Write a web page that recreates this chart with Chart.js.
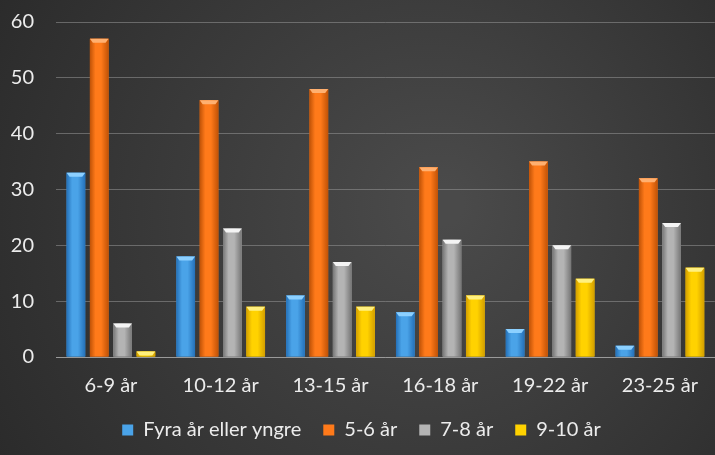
<!DOCTYPE html>
<html lang="sv">
<head>
<meta charset="UTF-8">
<title>Ålder</title>
<script src="https://cdn.jsdelivr.net/npm/chart.js"></script>
<style>
  html, body { margin: 0; padding: 0; background: #2a2a2a; }
  #wrap { width: 715px; height: 455px; position: relative; }
</style>
</head>
<body>
<div id="wrap"><canvas id="c"></canvas></div>
<script>
const kategorier = ['6-9 år', '10-12 år', '13-15 år', '16-18 år', '19-22 år', '23-25 år'];
const serieNamn = ['Fyra år eller yngre', '5-6 år', '7-8 år', '9-10 år'];
const fyraEllerYngre = [33, 18, 11, 8, 5, 2];
const femSex = [57, 46, 48, 34, 35, 32];
const sjuAtta = [6, 23, 17, 21, 20, 24];
const nioTio = [1, 9, 9, 11, 14, 16];
const yTicks = [0, 10, 20, 30, 40, 50, 60];

// färger: [mörk kant, mitt, topp-glans]
const farger = [
  ['#2470b8', '#4aa3e8', '#8cd0ff'],
  ['#c05206', '#ff7a1a', '#ffb070'],
  ['#767676', '#b4b4b4', '#f4f4f4'],
  ['#d39e00', '#ffd200', '#fff080']
];

const bakgrund = {
  id: 'bakgrund',
  beforeDraw(chart) {
    const c = chart.ctx;
    const w = chart.width, h = chart.height;
    c.save();
    const g = c.createRadialGradient(w * 0.62, h * 0.45, 20, w * 0.55, h * 0.5, w * 0.75);
    g.addColorStop(0, '#4a4a4a');
    g.addColorStop(1, '#262626');
    c.fillStyle = g;
    c.fillRect(0, 0, w, h);
    c.restore();
  }
};

// skuggning och glans ovanpå staplarna
const glans = {
  id: 'glans',
  afterDatasetsDraw(chart) {
    const c = chart.ctx;
    chart.data.datasets.forEach((ds, i) => {
      chart.getDatasetMeta(i).data.forEach(bar => {
        const w = bar.width;
        const x0 = bar.x - w / 2, x1 = bar.x + w / 2;
        c.save();
        const g = c.createLinearGradient(x0, 0, x1, 0);
        g.addColorStop(0, farger[i][0]);
        g.addColorStop(0.3, farger[i][1]);
        g.addColorStop(0.6, farger[i][1]);
        g.addColorStop(1, farger[i][0]);
        c.fillStyle = g;
        c.fillRect(x0, bar.y, w, bar.base - bar.y);
        c.fillStyle = farger[i][2];
        c.beginPath();
        c.moveTo(x0, bar.y);
        c.lineTo(x1, bar.y);
        c.lineTo(x1 - 3, bar.y + 4);
        c.lineTo(x0 + 3, bar.y + 4);
        c.closePath();
        c.fill();
        c.restore();
      });
    });
  }
};

const data = [fyraEllerYngre, femSex, sjuAtta, nioTio];

new Chart(document.getElementById('c'), {
  type: 'bar',
  data: {
    labels: kategorier,
    datasets: data.map((d, i) => ({
      label: serieNamn[i],
      data: d,
      backgroundColor: farger[i][1],
      borderWidth: 0,
      categoryPercentage: 0.85,
      barPercentage: 0.8
    }))
  },
  options: {
    responsive: true,
    maintainAspectRatio: false,
    animation: false,
    layout: { padding: { left: 8, right: 0, top: 22, bottom: 5 } },
    plugins: {
      legend: {
        position: 'bottom',
        labels: {
          color: '#ececec',
          font: { family: 'Lato', size: 20 },
          boxWidth: 11,
          boxHeight: 11,
          padding: 22,
          generateLabels(chart) {
            return serieNamn.map((n, i) => ({
              text: n,
              fillStyle: farger[i][1],
              strokeStyle: farger[i][1],
              lineWidth: 0,
              fontColor: '#ececec',
              datasetIndex: i
            }));
          }
        }
      },
      tooltip: { enabled: false }
    },
    scales: {
      x: {
        afterFit(scale) { scale.height = 41; },
        grid: { display: false, drawTicks: false },
        border: { color: '#9a9a9a', width: 1 },
        ticks: { color: '#ececec', font: { family: 'Lato', size: 20 }, padding: 17 }
      },
      y: {
        min: 0,
        max: 60,
        afterBuildTicks(axis) { axis.ticks = yTicks.map(v => ({ value: v })); },
        afterFit(scale) { scale.width = 48; scale.paddingTop = 0; scale.paddingBottom = 0; },
        grid: { color: 'rgba(150,150,150,0.55)', lineWidth: 1, drawTicks: false },
        border: { display: false },
        ticks: { color: '#ececec', font: { family: 'Lato', size: 20 }, padding: 22 }
      }
    }
  },
  plugins: [bakgrund, glans]
});
</script>
</body>
</html>
